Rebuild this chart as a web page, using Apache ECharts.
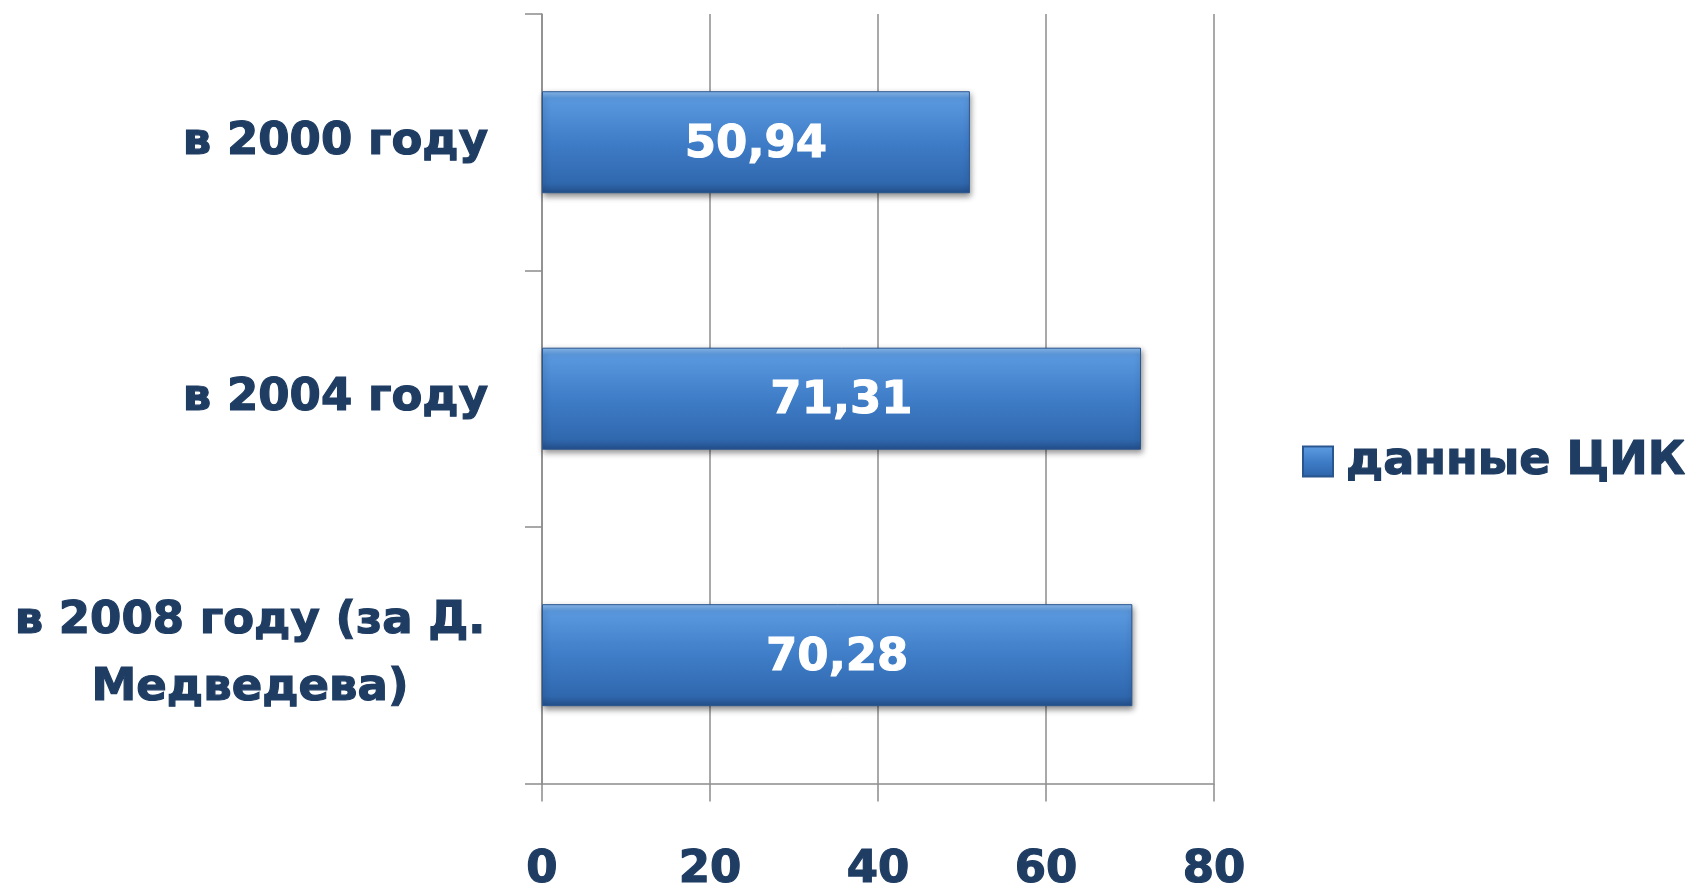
<!DOCTYPE html>
<html>
<head>
<meta charset="utf-8">
<script src="https://cdn.jsdelivr.net/npm/echarts@6/dist/echarts.min.js"></script>
<style>html,body{margin:0;padding:0;background:#fff}#c{width:1691px;height:893px}</style>
</head>
<body>
<div id="c"></div>
<script>
const categories = ['в 2000 году', 'в 2004 году', 'в 2008 году (за Д.\nМедведева)'];
const values = [50.94, 71.31, 70.28];
const valueLabels = ['50,94', '71,31', '70,28'];
const xTicks = [0, 20, 40, 60, 80];
const seriesName = 'данные ЦИК';

const navy = '#1F3D63';
const fontMain = '"DejaVu Sans", sans-serif';
const barGrad = new echarts.graphic.LinearGradient(0, 0, 0, 1, [
  {offset: 0, color: '#8DBDF0'},
  {offset: 0.07, color: '#5A98DE'},
  {offset: 0.5, color: '#3F7DC8'},
  {offset: 0.9, color: '#3068AE'},
  {offset: 1, color: '#234F8A'}
]);
const heavy = {textBorderColor: navy, textBorderWidth: 1.2};

const chart = echarts.init(document.getElementById('c'));
chart.setOption({
  backgroundColor: '#fff',
  animation: false,
  grid: {left: 542, right: 477, top: 14, bottom: 106, containLabel: false},
  legend: {
    left: 1297, top: 433,
    data: [seriesName],
    icon: 'rect', itemWidth: 30, itemHeight: 30, itemGap: 10,
    textStyle: Object.assign({color: navy, fontSize: 46, fontWeight: 'bold', fontFamily: fontMain, padding: [0, 0, 0, 8]}, heavy)
  },
  xAxis: {
    type: 'value', min: xTicks[0], max: xTicks[xTicks.length - 1], interval: 20,
    axisLine: {show: true, lineStyle: {color: '#8C8C8C', width: 1.5}},
    axisTick: {show: true, length: 18, lineStyle: {color: '#8C8C8C', width: 1.5}},
    splitLine: {show: true, lineStyle: {color: '#8C8C8C', width: 1.5}},
    axisLabel: Object.assign({
      margin: 64, color: navy, fontSize: 45, fontWeight: 'bold', fontFamily: fontMain
    }, heavy)
  },
  yAxis: {
    type: 'category', inverse: true, data: categories,
    axisLine: {show: true, lineStyle: {color: '#8C8C8C', width: 1.5}},
    axisTick: {show: true, length: 17, lineStyle: {color: '#8C8C8C', width: 1.5}},
    axisLabel: Object.assign({
      margin: 54, align: 'right', color: navy, fontSize: 45, fontWeight: 'bold', fontFamily: fontMain,
      lineHeight: 67,
      formatter: function (v) {
        if (v.indexOf('\n') >= 0) {
          return v.split('\n').map(s => '{c|' + s + '}').join('\n');
        }
        return v;
      },
      rich: {
        c: Object.assign({width: 476, align: 'center', color: navy, fontSize: 45, fontWeight: 'bold', fontFamily: fontMain, lineHeight: 67}, heavy)
      }
    }, heavy)
  },
  series: [{
    name: seriesName,
    type: 'bar',
    data: values,
    barWidth: 102,
    itemStyle: {
      color: barGrad,
      borderColor: '#2A5690', borderWidth: 1,
      shadowBlur: 6, shadowColor: 'rgba(0,0,0,0.45)', shadowOffsetX: 1, shadowOffsetY: 3
    },
    label: {
      show: true, position: 'inside', offset: [0, 3],
      formatter: p => valueLabels[p.dataIndex],
      color: '#fff', fontSize: 45, fontWeight: 'bold', fontFamily: fontMain,
      textBorderColor: '#fff', textBorderWidth: 1
    }
  }]
});
</script>
</body>
</html>
